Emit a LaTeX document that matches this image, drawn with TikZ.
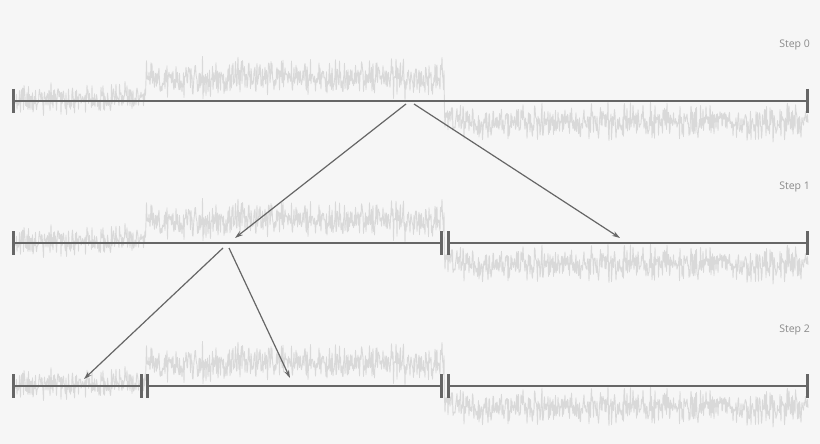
\documentclass[tikz,border=0pt]{standalone}
\usepackage{fontspec}
\setsansfont{Open Sans}
\usetikzlibrary{arrows.meta}
\definecolor{paper-grey}{HTML}{F6F6F6}
\definecolor{slate-grey}{HTML}{666666}
\definecolor{signal-grey}{HTML}{D9D9D9}
\definecolor{caption-grey}{HTML}{8A8A8A}

% one noisy signal, same seed on every row
\newcommand{\noiserow}[1]{%
  \pgfmathsetseed{7}%
  \draw[signal] plot[domain=14:808, samples=1589]
    (\x, {#1 + (\x<144.5)*(-3) + (\x>144.5)*(\x<444.25)*(-23) + (\x>444.25)*21
          + ((\x<144.5)*7 + (\x>144.5)*8.2)*(rand+rand+rand)});%
}

\begin{document}
\begin{tikzpicture}[x=1pt, y=-1pt,
    signal/.style={signal-grey, line width=0.9pt, line join=round},
    bar/.style={slate-grey, line width=2.6pt},
    tickmark/.style={slate-grey, line width=3pt},
    arrow/.style={slate-grey, line width=1.2pt, -{Stealth[length=8pt, width=5pt]}},
    steplabel/.style={caption-grey, anchor=east, inner sep=0pt, font=\sffamily\fontsize{10.5}{12}\selectfont}]
    \fill[paper-grey] (0,0) rectangle (820,444);

    % step 0
    \noiserow{101}
    \draw[bar] (13,101) -- (807,101);
    \draw[tickmark] (13,89) -- (13,113) (807,89) -- (807,113);
    \node[steplabel] (step0) at (810,45) {Step 0};

    % step 1
    \noiserow{243}
    \foreach \a/\b in {13/441, 448/807} {
      \draw[bar] (\a,243) -- (\b,243);
      \draw[tickmark] (\a,231) -- (\a,255) (\b,231) -- (\b,255);
    }
    \node[steplabel] (step1) at (810,187) {Step 1};

    % step 2
    \noiserow{386}
    \foreach \a/\b in {13/141, 147/441, 448/807} {
      \draw[bar] (\a,386) -- (\b,386);
      \draw[tickmark] (\a,374) -- (\a,398) (\b,374) -- (\b,398);
    }
    \node[steplabel] (step2) at (810,330) {Step 2};

    % splits
    \coordinate (root-l) at (406,104);
    \coordinate (root-r) at (414,104);
    \coordinate (left) at (235,238);
    \coordinate (right) at (620,238);
    \coordinate (left-l) at (223,248);
    \coordinate (left-r) at (229,248);
    \coordinate (leftleft) at (84,379);
    \coordinate (leftright) at (290,378);
    \draw[arrow] (root-l) -- (left);
    \draw[arrow] (root-r) -- (right);
    \draw[arrow] (left-l) -- (leftleft);
    \draw[arrow] (left-r) -- (leftright);
  \end{tikzpicture}
\end{document}
